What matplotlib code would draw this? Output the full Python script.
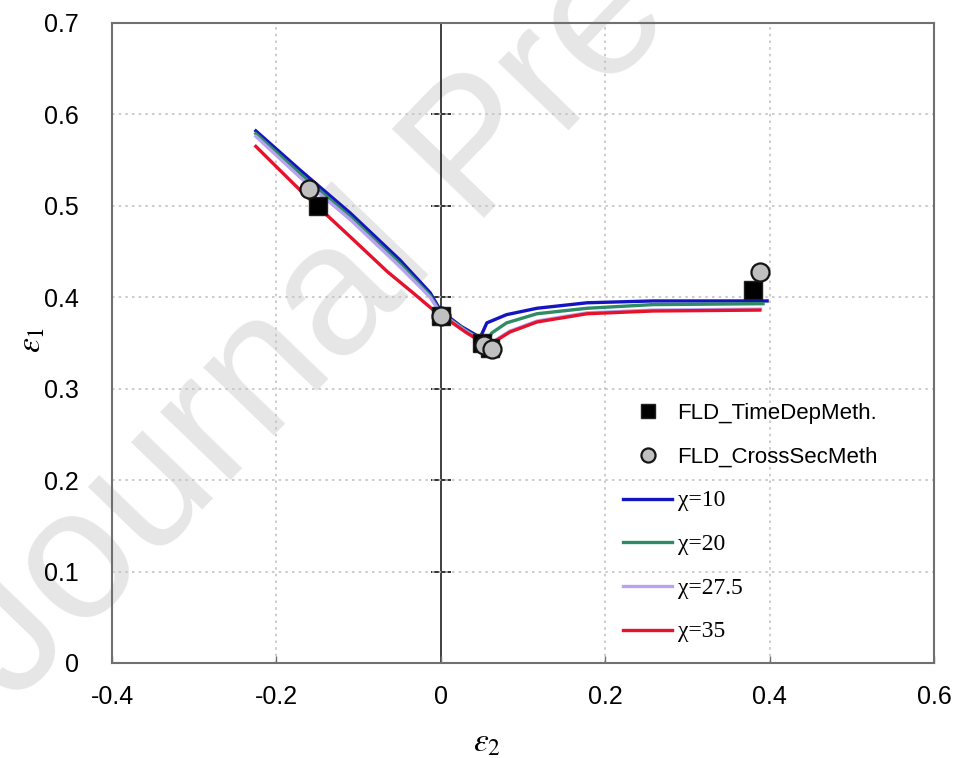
import numpy as np
import matplotlib.pyplot as plt

plt.rcParams['font.family'] = ['Liberation Sans', 'DejaVu Sans']
plt.rcParams['mathtext.fontset'] = 'stix'

# experimental points
time_dep_e2 = [-0.15, 0.0, 0.05, 0.06, 0.38]
time_dep_e1 = [0.50, 0.38, 0.35, 0.345, 0.408]
cross_sec_e2 = [-0.16, 0.0, 0.052, 0.062, 0.388]
cross_sec_e1 = [0.518, 0.38, 0.348, 0.343, 0.428]

# simulated FLCs for different chi
chi_labels = ['χ=10', 'χ=20', 'χ=27.5', 'χ=35']
chi_colors = ['#1414C0', '#2E8B66', '#B8A2F0', '#E6122C']

e2_chi10 = [-0.225, -0.171, -0.110, -0.050, -0.013, 0.0, 0.025, 0.048, 0.056, 0.080, 0.117, 0.178, 0.258, 0.397]
e1_chi10 = [0.582, 0.539, 0.492, 0.441, 0.405, 0.385, 0.368, 0.356, 0.372, 0.381, 0.388, 0.394, 0.396, 0.396]

e2_chi20 = [-0.225, -0.171, -0.110, -0.050, -0.013, 0.0, 0.03, 0.055, 0.062, 0.080, 0.117, 0.178, 0.258, 0.392]
e1_chi20 = [0.579, 0.535, 0.488, 0.437, 0.402, 0.383, 0.364, 0.350, 0.361, 0.372, 0.382, 0.388, 0.392, 0.393]

e2_chi27 = [-0.225, -0.171, -0.110, -0.050, -0.013, 0.0, 0.03, 0.060, 0.068, 0.084, 0.117, 0.178, 0.258, 0.389]
e1_chi27 = [0.576, 0.531, 0.485, 0.434, 0.400, 0.382, 0.363, 0.346, 0.354, 0.363, 0.374, 0.383, 0.386, 0.387]

e2_chi35 = [-0.225, -0.171, -0.110, -0.065, -0.034, -0.009, 0.0, 0.03, 0.062, 0.068, 0.084, 0.117, 0.178, 0.258, 0.388]
e1_chi35 = [0.565, 0.517, 0.466, 0.428, 0.405, 0.386, 0.381, 0.362, 0.344, 0.353, 0.362, 0.373, 0.382, 0.385, 0.386]

x_ticks = [-0.4, -0.2, 0, 0.2, 0.4, 0.6]
x_ticklabels = ['-0.4', '-0.2', '0', '0.2', '0.4', '0.6']
y_ticks = [0, 0.1, 0.2, 0.3, 0.4, 0.5, 0.6, 0.7]
y_ticklabels = ['0', '0.1', '0.2', '0.3', '0.4', '0.5', '0.6', '0.7']

fig = plt.figure(figsize=(9.57, 7.58), dpi=100)
ax = fig.add_axes([112/957, 1 - 663/758, 822/957, 640/758])
ax.patch.set_alpha(0)

# watermark behind everything
fig.text(0.0146, 0.070, 'Journal Pre-proof', rotation=46, rotation_mode='anchor',
         ha='left', va='baseline', fontsize=134, color='#e6e6e6', zorder=-1)

ax.set_xlim(-0.4, 0.6)
ax.set_ylim(0, 0.7)
ax.set_xticks(x_ticks)
ax.set_xticklabels(x_ticklabels)
ax.set_yticks(y_ticks)
ax.set_yticklabels(y_ticklabels)
ax.tick_params(axis='x', direction='in', length=5, width=1, color='#707070',
               labelsize=18, pad=16)
ax.tick_params(axis='y', length=0, labelsize=18, pad=24)

# dotted grid, except at x=0 where the axis line sits
for gx in [-0.2, 0.2, 0.4]:
    ax.axvline(gx, color='#c4c4c4', lw=1.2, ls=(0, (1.5, 2.5)), zorder=1)
for gy in [0.1, 0.2, 0.3, 0.4, 0.5, 0.6]:
    ax.axhline(gy, color='#c4c4c4', lw=1.2, ls=(0, (1.5, 2.5)), zorder=1)

for s in ax.spines.values():
    s.set_color('#707070')
    s.set_linewidth(1.5)

# vertical axis crossing at x=0
sec = ax.secondary_yaxis(0.4)
sec.set_yticks([0.1, 0.2, 0.3, 0.4, 0.5, 0.6])
sec.tick_params(direction='inout', length=14, width=1.3, color='#202020', labelleft=False)
sec.spines['left'].set_color('#202020')
sec.spines['left'].set_linewidth(1.2)

curves = [(e2_chi10, e1_chi10), (e2_chi20, e1_chi20), (e2_chi27, e1_chi27), (e2_chi35, e1_chi35)]
line_handles = []
for (cx, cy), lab, col in zip(curves, chi_labels, chi_colors):
    h, = ax.plot(cx, cy, color=col, lw=2.4, label=lab, zorder=3, solid_joinstyle='round')
    line_handles.append(h)

h_sq, = ax.plot(time_dep_e2, time_dep_e1, 's', ms=13, mfc='black', mec='#202020', mew=1,
                ls='none', label='FLD_TimeDepMeth.', zorder=5)
h_ci, = ax.plot(cross_sec_e2, cross_sec_e1, 'o', ms=13, mfc='#c0c0c0', mec='#151515', mew=1.6,
                ls='none', label='FLD_CrossSecMeth', zorder=6)

ax.set_xlabel(r'$\varepsilon_2$', fontsize=24)
ax.set_ylabel(r'$\varepsilon_1$', fontsize=24)
ax.xaxis.set_label_coords(0.456, -0.10)
ax.yaxis.set_label_coords(-0.078, 0.505)

leg = ax.legend([h_sq, h_ci] + line_handles,
                ['FLD_TimeDepMeth.', 'FLD_CrossSecMeth'] + chi_labels,
                loc='upper left', bbox_to_anchor=(612/957, 1 - 392/758),
                bbox_transform=fig.transFigure, frameon=False, fontsize=16,
                borderpad=0, handlelength=2.2, handletextpad=0.25,
                labelspacing=1.02, markerscale=0.78)
for t in leg.get_texts()[2:]:
    t.set_fontfamily(['Liberation Serif', 'DejaVu Serif'])
    t.set_fontsize(17)

fig.savefig('out.png', dpi=100)
